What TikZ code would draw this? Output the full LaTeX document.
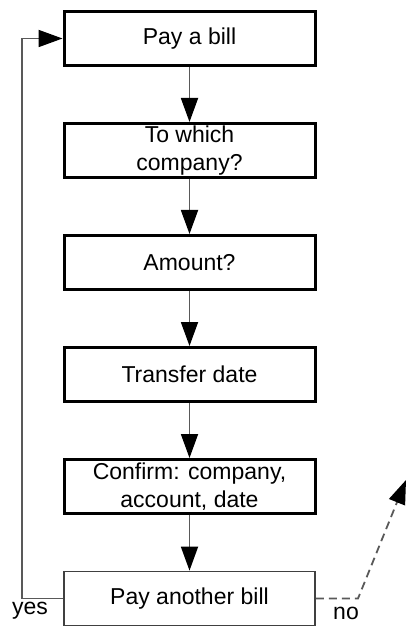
\documentclass[tikz,border=0pt]{standalone}
\usepackage{fontspec}
\setmainfont{Liberation Sans}
\usetikzlibrary{arrows.meta}
\tikzset{
  stepbox/.style={draw=black, line width=3pt, minimum width=251pt, minimum height=54pt,
    inner sep=0pt, align=center, font=\fontsize{23}{28}\selectfont},
  lastbox/.style={stepbox, line width=1.8pt, draw=black!75},
  flow/.style={draw=black!65, line width=1.8pt, -{Triangle[length=24pt,width=17pt,color=black]}},
  lbl/.style={font=\fontsize{23}{28}\selectfont, inner sep=0pt}
}
\begin{document}
\begin{tikzpicture}[x=1pt,y=-1pt]
        \useasboundingbox (0,0) rectangle (407,628);
        % boxes
        \node[stepbox] (bill) at (189.5,38.5) {Pay a bill};
        \node[stepbox] (company) at (189.5,150.5) {To which\\company?};
        \node[stepbox] (amount) at (189.5,262.5) {Amount?};
        \node[stepbox] (date) at (189.5,374.5) {Transfer date};
        \node[stepbox] (confirm) at (189.5,486.5) {Confirm: company,\\account, date};
        \node[lastbox] (another) at (189.5,598.5) {Pay another bill};
        % arrows
        \draw[flow] (bill) -- (company);
        \draw[flow] (company) -- (amount);
        \draw[flow] (amount) -- (date);
        \draw[flow] (date) -- (confirm);
        \draw[flow] (confirm) -- (another);
        % loop back
        \coordinate (back) at (22,598.5);
        \draw[flow] (another.west) -- (back) |- (bill.west);
        \node[lbl] (yes) at (30,611) {yes};
        % exit
        \coordinate (bend) at (358,598.5);
        \coordinate (exit) at (406,480);
        \draw[flow, dash pattern=on 8pt off 5pt] (another.east) -- (bend) -- (exit);
        \node[lbl] (no) at (346,613) {no};
\end{tikzpicture}
\end{document}
